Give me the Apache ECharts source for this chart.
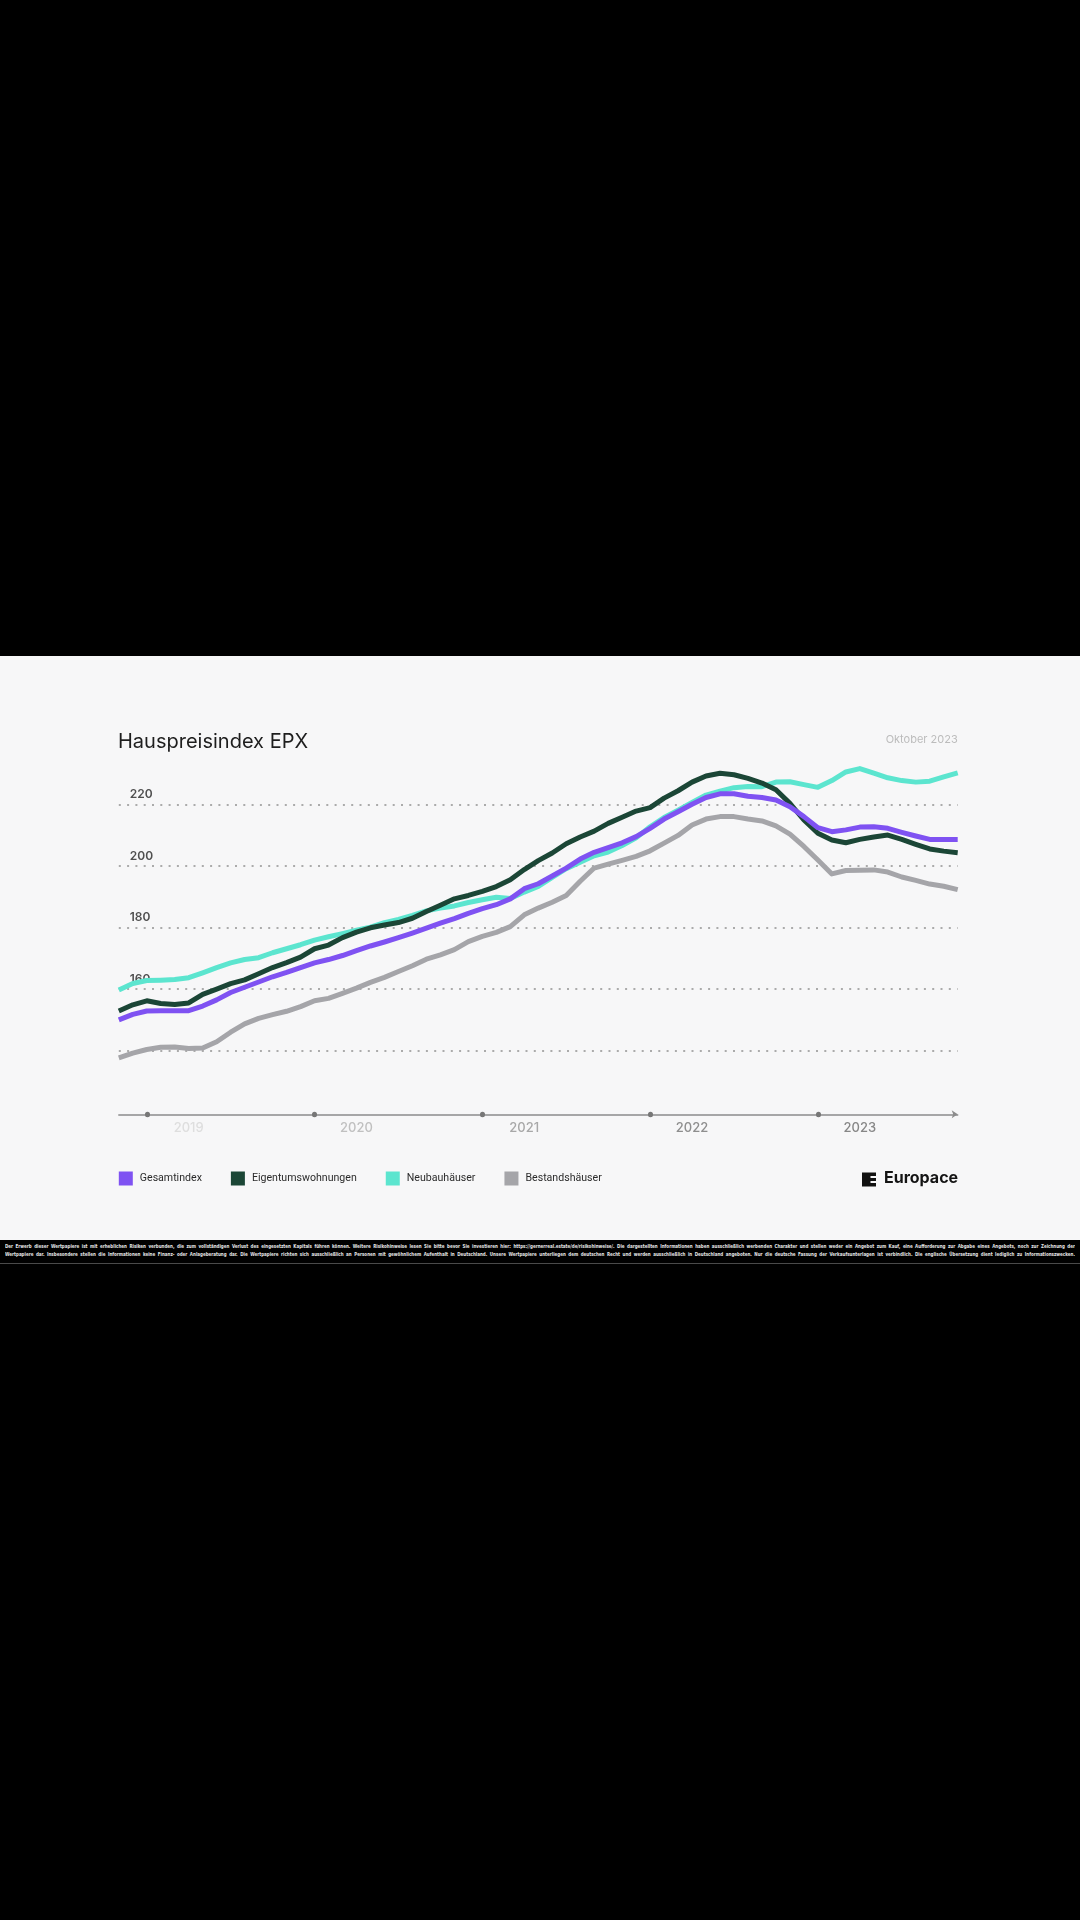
<!DOCTYPE html>
<html lang="de">
<head>
<meta charset="utf-8">
<title>Hauspreisindex EPX</title>
<script src="https://cdn.jsdelivr.net/npm/echarts@6/dist/echarts.min.js"></script>
<style>
  html, body { margin: 0; padding: 0; background: #000; }
  body { width: 1080px; height: 1920px; position: relative; overflow: hidden; }
  #panel {
    position: absolute; left: 0; top: 656px; width: 1080px; height: 584px;
    background: #f7f7f8;
  }
  #chart { width: 1080px; height: 584px; }
  #disclaimer {
    position: absolute; left: 0; top: 1240px; width: 1080px; height: 23px;
    background: #000; border-bottom: 1px solid #4a4a4a; overflow: hidden;
  }
  #disclaimer .txt {
    position: absolute; left: 5px; top: 2px; width: 2140px;
    transform: scale(0.5); transform-origin: 0 0;
    font-family: "DejaVu Sans Condensed", "DejaVu Sans", sans-serif;
    font-weight: bold; font-size: 9px; line-height: 16px; color: #e6e6e6;
  }
  #disclaimer .txt div { text-align: justify; text-align-last: justify; }
</style>
</head>
<body>
<div id="panel"><div id="chart"></div></div>
<div id="disclaimer">
  <div class="txt">
    <div>Der Erwerb dieser Wertpapiere ist mit erheblichen Risiken verbunden, die zum vollständigen Verlust des eingesetzten Kapitals führen können. Weitere Risikohinweise lesen Sie bitte bevor Sie investieren hier: https://gernerreal.estate/de/risikohinweise/. Die dargestellten Informationen haben ausschließlich werbenden Charakter und stellen weder ein Angebot zum Kauf, eine Aufforderung zur Abgabe eines Angebots, noch zur Zeichnung der</div>
    <div>Wertpapiere dar. Insbesondere stellen die Informationen keine Finanz- oder Anlageberatung dar. Die Wertpapiere richten sich ausschließlich an Personen mit gewöhnlichem Aufenthalt in Deutschland. Unsere Wertpapiere unterliegen dem deutschen Recht und werden ausschließlich in Deutschland angeboten. Nur die deutsche Fassung der Verkaufsunterlagen ist verbindlich. Die englische Übersetzung dient lediglich zu Informationszwecken.</div>
  </div>
</div>
<script>
// Monatswerte Okt 2018 – Okt 2023
const months = [
  '2018-10', '2018-11', '2018-12',
  '2019-01', '2019-02', '2019-03', '2019-04', '2019-05', '2019-06', '2019-07', '2019-08', '2019-09', '2019-10', '2019-11', '2019-12',
  '2020-01', '2020-02', '2020-03', '2020-04', '2020-05', '2020-06', '2020-07', '2020-08', '2020-09', '2020-10', '2020-11', '2020-12',
  '2021-01', '2021-02', '2021-03', '2021-04', '2021-05', '2021-06', '2021-07', '2021-08', '2021-09', '2021-10', '2021-11', '2021-12',
  '2022-01', '2022-02', '2022-03', '2022-04', '2022-05', '2022-06', '2022-07', '2022-08', '2022-09', '2022-10', '2022-11', '2022-12',
  '2023-01', '2023-02', '2023-03', '2023-04', '2023-05', '2023-06', '2023-07', '2023-08', '2023-09', '2023-10'
]

// Achsenpunkte und Jahresbeschriftungen
const tickMonths = ['2018-12', '2019-12', '2020-12', '2021-12', '2022-12']
const labelMonths = ['2019-03', '2020-03', '2021-03', '2022-03', '2023-03']
const yearNames = ['2019', '2020', '2021', '2022', '2023']
const hiddenYLabels = [140]

const gesamtindex = [
  150.0, 151.8, 152.9, 153.0, 153.0, 153.0, 154.5, 156.5, 158.9, 160.6, 162.3, 164.0, 165.4, 167.0, 168.5,
  169.6, 170.9, 172.5, 174.0, 175.3, 176.7, 178.2, 179.8, 181.4, 182.9, 184.6, 186.1, 187.4, 189.3, 192.6,
  194.2, 196.7, 199.3, 202.2, 204.4, 205.9, 207.5, 209.5, 212.2, 215.2, 217.6, 220.0, 222.2, 223.4, 223.4,
  222.6, 222.2, 221.4, 219.2, 216.0, 212.4, 211.1, 211.7, 212.6, 212.7, 212.2, 210.9, 209.7, 208.6, 208.6, 208.6
]
const eigentumswohnungen = [
  152.9, 154.9, 156.2, 155.3, 155.0, 155.5, 158.3, 160.0, 161.8, 163.0, 165.0, 167.0, 168.6, 170.4, 173.1,
  174.3, 176.7, 178.5, 179.9, 180.8, 181.6, 183.0, 185.2, 187.2, 189.3, 190.4, 191.7, 193.3, 195.5, 198.8,
  201.7, 204.2, 207.2, 209.4, 211.3, 213.8, 215.8, 217.8, 218.9, 222.0, 224.4, 227.2, 229.2, 230.1, 229.6,
  228.4, 226.9, 224.7, 220.3, 214.9, 210.6, 208.4, 207.5, 208.6, 209.4, 210.0, 208.6, 207.0, 205.5, 204.8, 204.3
]
const neubauhaeuser = [
  159.7, 161.8, 162.8, 162.9, 163.1, 163.7, 165.3, 167.0, 168.5, 169.6, 170.2, 171.8, 173.1, 174.4, 175.9,
  177.0, 178.0, 179.1, 180.1, 181.6, 182.6, 183.9, 185.4, 186.3, 187.0, 188.1, 189.0, 189.8, 189.4, 191.5,
  193.3, 196.3, 199.1, 201.2, 203.3, 204.5, 206.6, 209.1, 212.7, 215.7, 218.1, 220.6, 223.0, 224.3, 225.4,
  225.8, 225.7, 227.2, 227.3, 226.4, 225.5, 227.7, 230.5, 231.6, 230.1, 228.6, 227.7, 227.2, 227.5, 228.9, 230.2
]
const bestandshaeuser = [
  137.7, 139.2, 140.4, 141.1, 141.2, 140.7, 140.9, 142.9, 146.0, 148.7, 150.5, 151.7, 152.8, 154.3, 156.2,
  157.0, 158.6, 160.3, 162.2, 163.8, 165.7, 167.6, 169.7, 171.1, 172.8, 175.4, 177.1, 178.4, 180.3, 184.1,
  186.3, 188.2, 190.4, 195.0, 199.3, 200.6, 201.8, 203.1, 204.9, 207.4, 209.9, 213.3, 215.2, 216.0, 216.0,
  215.2, 214.6, 213.0, 210.3, 206.3, 201.9, 197.4, 198.5, 198.6, 198.7, 198.0, 196.4, 195.3, 194.1, 193.4, 192.3
]

const FONT = 'Inter, "Noto Sans", sans-serif'
const LEGEND_FONT = 'Roboto, Inter, sans-serif'
const colors = {
  gesamt: '#7f52f2',
  eigentum: '#1b4636',
  neubau: '#5ce5cf',
  bestand: '#a5a5a9'
}
const yearColors = ['#dedede', '#c0c0c0', '#a8a8a8', '#8e8e8e', '#878787']

const chart = echarts.init(document.getElementById('chart'))

const lineSeries = (name, data, color) => ({
  name,
  type: 'line',
  data,
  color,
  symbol: 'none',
  showSymbol: false,
  lineStyle: { width: 5, color, join: 'round' },
  emphasis: { disabled: true }
})

const option = {
  animation: false,
  backgroundColor: 'transparent',
  legend: {
    data: ['Gesamtindex', 'Eigentumswohnungen', 'Neubauhäuser', 'Bestandshäuser'],
    left: 118.8,
    top: 515.5,
    padding: 0,
    icon: 'rect',
    itemWidth: 14,
    itemHeight: 14,
    itemGap: 29,
    selectedMode: false,
    itemStyle: { borderWidth: 0 },
    textStyle: { fontFamily: LEGEND_FONT, fontSize: 10.6, color: '#2b2b2b', padding: [0, 0, 0, 2] }
  },
  grid: { left: 118.8, right: 122.3, top: 86.7, bottom: 127.7 },
  xAxis: {
    type: 'category',
    data: months,
    boundaryGap: false,
    offset: 2,
    axisLine: {
      show: true,
      symbol: ['none', 'arrow'],
      symbolSize: [6, 6],
      lineStyle: { color: '#8c8c8c', width: 1.5 }
    },
    axisTick: {
      show: true,
      interval: (i, v) => tickMonths.includes(v),
      length: 0.5,
      lineStyle: { color: '#777', width: 5, cap: 'round' }
    },
    axisLabel: {
      interval: (i, v) => labelMonths.includes(v),
      formatter: v => yearNames[labelMonths.indexOf(v)] || '',
      color: v => yearColors[labelMonths.indexOf(v)] || '#888',
      margin: 7,
      fontFamily: FONT,
      fontSize: 13,
      fontWeight: 500
    },
    splitLine: { show: false }
  },
  yAxis: {
    type: 'value',
    min: 120,
    max: 240,
    interval: 20,
    axisLine: { show: false },
    axisTick: { show: false },
    axisLabel: {
      inside: true,
      margin: 11,
      verticalAlign: 'bottom',
      padding: [0, 0, 4, 0],
      showMinLabel: false,
      showMaxLabel: false,
      formatter: v => hiddenYLabels.includes(v) ? '' : String(v),
      color: '#505050',
      fontFamily: FONT,
      fontSize: 12,
      fontWeight: 600
    },
    splitLine: {
      show: true,
      showMinLine: false,
      showMaxLine: false,
      lineStyle: { color: '#ababab', width: 2, type: [2, 6.3] }
    }
  },
  graphic: [
    {
      type: 'text', left: 118, top: 76,
      style: { text: 'Hauspreisindex EPX', font: '400 20px ' + FONT, fill: '#1e1e1e' }
    },
    {
      type: 'text', right: 122.3, top: 78,
      style: { text: 'Oktober 2023', font: '400 11px ' + FONT, fill: '#bcbcbc' }
    },
    {
      type: 'group', left: 862, top: 516.5,
      children: [
        { type: 'rect', shape: { x: 0, y: 0, width: 14, height: 14 }, style: { fill: '#111' } },
        { type: 'rect', shape: { x: 8.5, y: 3.5, width: 5.5, height: 2 }, style: { fill: '#f7f7f8' } },
        { type: 'rect', shape: { x: 8.5, y: 8.5, width: 5.5, height: 2 }, style: { fill: '#f7f7f8' } }
      ]
    },
    {
      type: 'text', left: 884, top: 514,
      style: { text: 'Europace', font: '700 16px ' + FONT, fill: '#141414' }
    }
  ],
  series: [
    lineSeries('Bestandshäuser', bestandshaeuser, colors.bestand),
    lineSeries('Neubauhäuser', neubauhaeuser, colors.neubau),
    lineSeries('Eigentumswohnungen', eigentumswohnungen, colors.eigentum),
    lineSeries('Gesamtindex', gesamtindex, colors.gesamt)
  ]
}

chart.setOption(option)
</script>
</body>
</html>
